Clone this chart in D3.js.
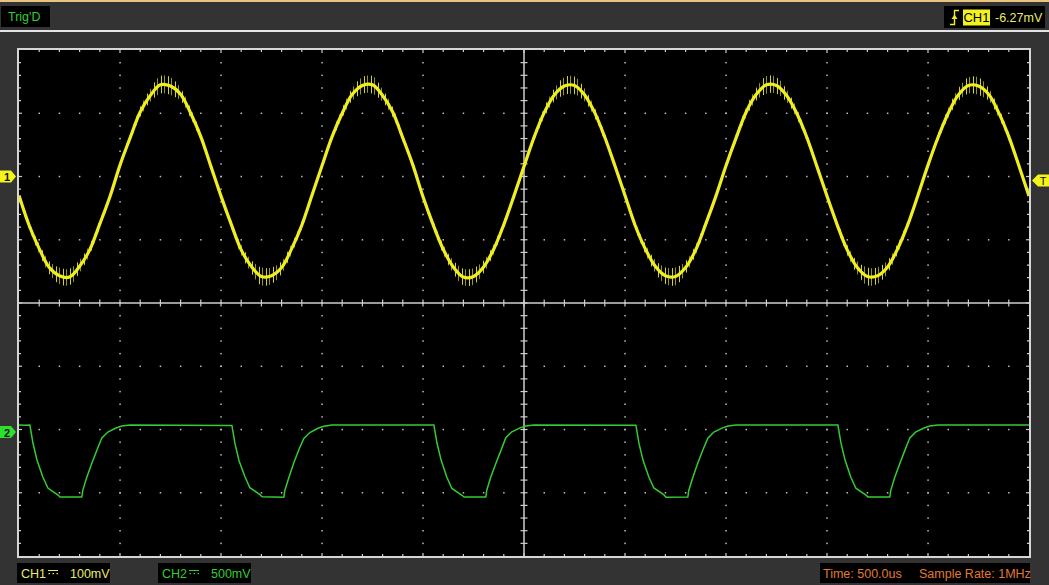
<!DOCTYPE html>
<html><head><meta charset="utf-8">
<script src="https://cdn.jsdelivr.net/npm/d3@7"></script>
<style>
html,body{margin:0;padding:0;background:#333;overflow:hidden}
svg{display:block}
text{font-family:Arial,"Liberation Sans",sans-serif}
</style>
</head><body>
<svg id="c" width="1049" height="585"></svg>
<script>
// ---------- data ----------
const timeSpan = [-2500, 2500];          // us, 10 div x 500 us
const ch1Step = 50;                      // us between CH1 samples
const ch1Volt = [                        // mV, CH1 100mV/div
  -30,-77,-114,-144,-157,-159,-142,-116,-75,-32,18,61,102,128,145,143,130,100,63,16,
  -31,-75,-116,-142,-158,-157,-144,-114,-77,-30,17,63,100,130,144,145,128,102,61,18,
  -32,-76,-115,-143,-159,-158,-143,-115,-76,-31,16,62,101,129,143,144,129,101,62,17,
  -30,-77,-114,-142,-157,-158,-144,-116,-75,-31,17,61,102,130,145,144,128,100,62,16,
  -31,-76,-116,-144,-158,-157,-143,-114,-76,-30,18,62,100,129,144,143,130,101,63,17,
  -31];
const ch1Spread = [                      // mV, half width of the noisy trace
  5,6,8,10,13,13,10,8,6,5,5,6,8,10,14,14,10,8,6,5,
  5,6,8,10,14,13,10,8,6,5,5,6,8,10,13,14,10,8,6,5,
  5,6,8,10,13,13,10,8,6,5,5,6,8,10,14,14,10,8,6,5,
  5,6,8,10,13,14,10,8,6,5,5,6,8,10,14,13,10,8,6,5,
  5,6,8,10,14,13,10,8,6,5,5,6,8,10,13,14,10,8,6,5,
  5];
const ch2Time = [                        // us
  -2500,-2470,
  -2446,-2431,-2411,-2382,-2357,-2307,-2297,-2189,-2184,-2164,-2139,-2114,-2090,-2060,-2020,-1991,-1951,
  -1446,-1431,-1411,-1382,-1357,-1307,-1297,-1189,-1184,-1164,-1139,-1114,-1090,-1060,-1020,-991,-951,
  -446,-431,-411,-382,-357,-307,-297,-189,-184,-164,-139,-114,-90,-60,-20,9,49,
  554,569,589,618,643,693,703,811,816,836,861,886,910,940,980,1009,1049,
  1554,1569,1589,1618,1643,1693,1703,1811,1816,1836,1861,1886,1910,1940,1980,2009,2049,
  2500];
const ch2Volt = [                        // mV, CH2 500mV/div
  55,53,
  55,-87,-221,-356,-443,-498,-514,-514,-459,-356,-245,-142,-47,0,32,47,55,
  52,-90,-225,-352,-440,-495,-512,-515,-462,-360,-240,-138,-50,-4,30,46,56,
  55,-85,-218,-358,-446,-500,-514,-513,-458,-354,-247,-145,-45,2,33,48,55,
  54,-88,-222,-355,-442,-497,-515,-514,-460,-357,-243,-140,-48,0,31,47,56,
  55,-86,-220,-357,-444,-499,-513,-514,-459,-355,-246,-143,-46,1,32,48,55,
  56];
const ch1Offset = 0, ch2Offset = 0;      // mV at the channel markers
const trigLevel = -6.27;                 // mV
const topLeftText = "Trig'D";
const trigSource = "CH1", trigText = "-6.27mV";
const bottomLabels = [
  {ch:"CH1", scale:"100mV"},
  {ch:"CH2", scale:"500mV"}];
const timeText = "Time: 500.0us", rateText = "Sample Rate: 1MHz";

// ---------- layout ----------
const W = 1049, H = 585;
const X0 = 19, X1 = 1029, Y0 = 50, Y1 = 556;
const YEL = "#eeee22", GRN = "#33cc33", ORG = "#e07a32", LBLY = "#eaea6a";

const xDiv = d3.scaleLinear([0, 10], [X0, X1]);
const yDiv = d3.scaleLinear([0, 8], [Y0, Y1]);
const xT = d3.scaleLinear(timeSpan, [X0, X1]);
const y1 = d3.scaleLinear([-600, 200], [Y1, Y0]);     // CH1 zero 2 div above centre
const y2 = d3.scaleLinear([-980, 3020], [Y1, Y0]);    // CH2 zero ~2.04 div below centre

const svg = d3.select("#c");
svg.append("rect").attr("width", W).attr("height", H).attr("fill", "#333333");
svg.append("rect").attr("x", 0).attr("y", 0).attr("width", W).attr("height", 2).attr("fill", "#e9c47e");
svg.append("rect").attr("x", 0).attr("y", 30).attr("width", W).attr("height", 2).attr("fill", "#e4e4e4");

// top-left status
svg.append("rect").attr("x", 1).attr("y", 6).attr("width", 49).attr("height", 21).attr("fill", "#000");
svg.append("text").attr("x", 8).attr("y", 21).attr("font-size", 12.5).attr("fill", GRN).text(topLeftText);

// top-right trigger box
svg.append("rect").attr("x", 944).attr("y", 6).attr("width", 101).attr("height", 22).attr("fill", "#000");
const ti = svg.append("g").attr("stroke", YEL).attr("stroke-width", 1.4).attr("fill", "none");
ti.append("path").attr("d", "M950,24.5 H954.5 V10.5 H959");
svg.append("path").attr("d", "M951.5,19 L954.5,14.5 L957.5,19 Z").attr("fill", YEL);
svg.append("rect").attr("x", 963).attr("y", 9.5).attr("width", 27).attr("height", 16).attr("fill", "#f2f21e");
svg.append("text").attr("x", 976.5).attr("y", 22).attr("text-anchor", "middle").attr("font-size", 13).attr("fill", "#000").text(trigSource);
svg.append("text").attr("x", 995).attr("y", 22).attr("font-size", 12.5).attr("fill", LBLY).text(trigText);

// plot area
svg.append("rect").attr("x", X0).attr("y", Y0).attr("width", X1 - X0).attr("height", Y1 - Y0).attr("fill", "#000");
svg.append("rect").attr("x", X0 - 1).attr("y", Y0 - 1).attr("width", X1 - X0 + 2).attr("height", Y1 - Y0 + 2)
  .attr("fill", "none").attr("stroke", "#d6d6d6").attr("stroke-width", 2);

// grid dots
const grid = svg.append("g").attr("fill", "#bdbdbd");
const dots = [];
for (let i = 1; i < 10; i++) { if (i === 5) continue; for (let j = 1; j < 40; j++) dots.push([xDiv(i), yDiv(j / 5)]); }
for (let k = 1; k < 8; k++) { if (k === 4) continue; for (let m = 1; m < 50; m++) dots.push([xDiv(m / 5), yDiv(k)]); }
grid.selectAll("rect").data(dots).join("rect")
  .attr("x", d => d[0] - 0.7).attr("y", d => d[1] - 0.7).attr("width", 1.5).attr("height", 1.5);

// centre axes and ticks
const ax = svg.append("g").attr("stroke", "#cfcfcf").attr("stroke-width", 1.5);
ax.append("line").attr("x1", xDiv(5)).attr("x2", xDiv(5)).attr("y1", Y0).attr("y2", Y1);
ax.append("line").attr("x1", X0).attr("x2", X1).attr("y1", yDiv(4)).attr("y2", yDiv(4));
const tk = svg.append("g").attr("stroke", "#cfcfcf").attr("stroke-width", 1.2);
for (let m = 1; m < 50; m++) {
  const x = xDiv(m / 5);
  tk.append("line").attr("x1", x).attr("x2", x).attr("y1", yDiv(4) - 3.5).attr("y2", yDiv(4) + 3.5);
  tk.append("line").attr("x1", x).attr("x2", x).attr("y1", Y0).attr("y2", Y0 + (m % 5 ? 2 : 3));
  tk.append("line").attr("x1", x).attr("x2", x).attr("y1", Y1).attr("y2", Y1 - (m % 5 ? 2 : 3));
}
for (let j = 1; j < 40; j++) {
  const y = yDiv(j / 5);
  tk.append("line").attr("y1", y).attr("y2", y).attr("x1", xDiv(5) - 3.5).attr("x2", xDiv(5) + 3.5);
  tk.append("line").attr("y1", y).attr("y2", y).attr("x1", X0).attr("x2", X0 + (j % 5 ? 2 : 3));
  tk.append("line").attr("y1", y).attr("y2", y).attr("x1", X1).attr("x2", X1 - (j % 5 ? 2 : 3));
}

// clip
svg.append("clipPath").attr("id", "plotclip").append("rect")
  .attr("x", X0).attr("y", Y0).attr("width", X1 - X0).attr("height", Y1 - Y0);
const defs = svg.append("defs");
const pat = defs.append("pattern").attr("id", "hair").attr("patternUnits", "userSpaceOnUse")
  .attr("width", 7).attr("height", 4);
pat.append("rect").attr("x", 0).attr("y", 0).attr("width", 1).attr("height", 4).attr("fill", YEL);
pat.append("rect").attr("x", 3).attr("y", 0).attr("width", 1).attr("height", 4).attr("fill", YEL).attr("opacity", 0.7);

const traces = svg.append("g").attr("clip-path", "url(#plotclip)");

// CH1
const ch1 = ch1Volt.map((v, i) => ({t: timeSpan[0] + i * ch1Step, v, s: ch1Spread[i]}));
traces.append("path").datum(ch1)
  .attr("d", d3.area().curve(d3.curveCatmullRom).x(d => xT(d.t)).y0(d => y1(d.v - d.s)).y1(d => y1(d.v + d.s)))
  .attr("fill", "url(#hair)").attr("opacity", 0.9);
traces.append("path").datum(ch1)
  .attr("d", d3.line().curve(d3.curveCatmullRom).x(d => xT(d.t)).y(d => y1(d.v)))
  .attr("fill", "none").attr("stroke", YEL).attr("stroke-width", 3.2);

// CH2
const ch2 = ch2Volt.map((v, i) => ({t: ch2Time[i], v}));
traces.append("path").datum(ch2)
  .attr("d", d3.line().x(d => xT(d.t)).y(d => y2(d.v)))
  .attr("fill", "none").attr("stroke", GRN).attr("stroke-width", 1.5);

// channel markers
function leftMarker(y, fill, label) {
  svg.append("path").attr("d", `M0,${y - 6}H11L16,${y}L11,${y + 6}H0Z`).attr("fill", fill);
  svg.append("text").attr("x", 7).attr("y", y + 4.5).attr("text-anchor", "middle")
    .attr("font-size", 11).attr("font-weight", "bold").attr("fill", "#111").text(label);
}
leftMarker(y1(ch1Offset), "#f4f41c", "1");
leftMarker(y2(ch2Offset), "#2ee02e", "2");
const ty = y1(trigLevel);
svg.append("path").attr("d", `M1032,${ty}L1038,${ty - 6}H1049V${ty + 6}H1038Z`).attr("fill", "#f4f41c");
svg.append("text").attr("x", 1043).attr("y", ty + 4.5).attr("text-anchor", "middle")
  .attr("font-size", 11).attr("fill", "#111").text("T");

// bottom labels
const boxes = [{x: 17, col: LBLY}, {x: 158, col: GRN}];
bottomLabels.forEach((b, i) => {
  const bx = boxes[i].x, col = boxes[i].col;
  svg.append("rect").attr("x", bx).attr("y", 563).attr("width", 93).attr("height", 20).attr("fill", "#000");
  svg.append("text").attr("x", bx + 4).attr("y", 578).attr("font-size", 12.5).attr("fill", col).text(b.ch);
  svg.append("line").attr("x1", bx + 31).attr("x2", bx + 41).attr("y1", 570.5).attr("y2", 570.5)
    .attr("stroke", col).attr("stroke-width", 1);
  [31.5, 35.5, 39.5].forEach(dx => svg.append("rect").attr("x", bx + dx).attr("y", 573).attr("width", 1.5).attr("height", 1.2).attr("fill", col));
  svg.append("text").attr("x", bx + 53).attr("y", 578).attr("font-size", 12.5).attr("fill", col).text(b.scale);
});
svg.append("rect").attr("x", 820).attr("y", 563).attr("width", 210).attr("height", 20).attr("fill", "#000");
svg.append("text").attr("x", 823).attr("y", 578).attr("font-size", 12.5).attr("fill", ORG).text(timeText);
svg.append("text").attr("x", 919).attr("y", 578).attr("font-size", 12.5).attr("fill", ORG).text(rateText);
</script>
</body></html>
